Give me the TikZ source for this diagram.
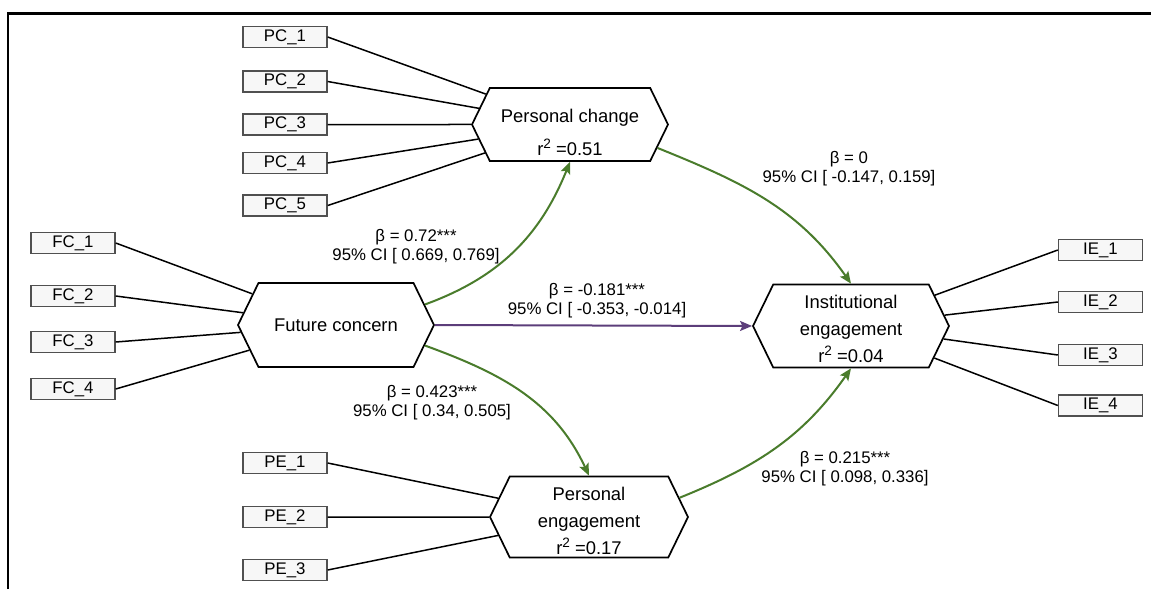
\documentclass[tikz,border=0pt]{standalone}
\usepackage{fontspec}
\setmainfont{Liberation Sans}
\usetikzlibrary{shapes.symbols,arrows.meta}
\definecolor{pathgreen}{RGB}{74,124,44}
\definecolor{pathpurple}{RGB}{92,61,122}
\definecolor{itemgray}{RGB}{80,80,80}
\newcommand{\rtwo}{r\raisebox{3.6pt}{\fontsize{6.8}{7}\selectfont 2}}

\begin{document}
\begin{tikzpicture}[x=0.5pt,y=-0.5pt,
    item/.style={draw=itemgray,line width=0.7pt,fill=gray!6,minimum width=42pt,minimum height=10.5pt,inner sep=0pt,font=\fontsize{8.4}{9}\selectfont},
    construct/.style={shape=signal,signal to=west and east,signal pointer angle=128,draw,line width=0.85pt,fill=white,minimum width=98pt,inner sep=0pt,align=center,font=\fontsize{9.2}{13.5}\selectfont},
    coef/.style={align=center,inner sep=0pt,font=\fontsize{8.4}{9.5}\selectfont},
    load/.style={line width=0.75pt},
    effect/.style={pathgreen,line width=1pt,-{Stealth[length=6pt,width=5pt,inset=1.2pt]}}]
        \useasboundingbox (0,0) rectangle (1151,589);
        \draw[line width=1.3pt] (8,589) |- (1151,13.5);
        % constructs
        \node[construct,minimum height=36.5pt] (pc) at (570,124.5) {\rule{0pt}{15pt}Personal change\\[3pt]\rtwo{} =0.51};
        \node[construct,minimum height=42pt] (fc) at (336,325) {Future concern};
        \node[construct,minimum height=41.5pt] (ie) at (851,326) {\rule{0pt}{9.5pt}Institutional\\engagement\\\rtwo{} =0.04};
        \node[construct,minimum height=40.5pt,minimum width=99pt] (pe) at (589,517) {\rule{0pt}{10.5pt}Personal\\engagement\\\rtwo{} =0.17};
        % indicators
        \node[item] (pc1) at (285,37) {PC\_1};
        \node[item] (pc2) at (285,81.5) {PC\_2};
        \node[item] (pc3) at (285,124.5) {PC\_3};
        \node[item] (pc4) at (285,163) {PC\_4};
        \node[item] (pc5) at (285,205.5) {PC\_5};
        \node[item] (fc1) at (73,243) {FC\_1};
        \node[item] (fc2) at (73,296) {FC\_2};
        \node[item] (fc3) at (73,342) {FC\_3};
        \node[item] (fc4) at (73,389) {FC\_4};
        \node[item] (ie1) at (1100.5,250) {IE\_1};
        \node[item] (ie2) at (1100.5,302) {IE\_2};
        \node[item] (ie3) at (1100.5,355) {IE\_3};
        \node[item] (ie4) at (1100.5,405.5) {IE\_4};
        \node[item] (pe1) at (285,463) {PE\_1};
        \node[item] (pe2) at (285,517) {PE\_2};
        \node[item] (pe3) at (285,570) {PE\_3};
        \draw[load] (pc1.east) -- (pc);
        \draw[load] (pc2.east) -- (pc);
        \draw[load] (pc3.east) -- (pc);
        \draw[load] (pc4.east) -- (pc);
        \draw[load] (pc5.east) -- (pc);
        \draw[load] (fc1.east) -- (fc);
        \draw[load] (fc2.east) -- (fc);
        \draw[load] (fc3.east) -- (fc);
        \draw[load] (fc4.east) -- (fc);
        \draw[load] (ie1.west) -- (ie);
        \draw[load] (ie2.west) -- (ie);
        \draw[load] (ie3.west) -- (ie);
        \draw[load] (ie4.west) -- (ie);
        \draw[load] (pe1.east) -- (pe);
        \draw[load] (pe2.east) -- (pe);
        \draw[load] (pe3.east) -- (pe);
        % paths
        \draw[effect] (fc.13) to[out=20,in=-112] (pc.south);
        \draw[effect] (pc.-15) to[out=-22,in=125] (ie.north);
        \draw[effect] (fc.-13) to[out=-20,in=115] (pe.north);
        \draw[effect] (pe.12) to[out=22,in=-125] (ie.south);
        \draw[effect,pathpurple] (fc.east) -- (ie.west);
        \node[coef] (fcpc) at (416,247) {β = 0.72***\\95\% CI [ 0.669, 0.769]};
        \node[coef] (fcie) at (597,301) {β = -0.181***\\95\% CI [ -0.353, -0.014]};
        \node[coef] (pcie) at (849,169) {β = 0\\95\% CI [ -0.147, 0.159]};
        \node[coef] (fcpe) at (432,403) {β = 0.423***\\95\% CI [ 0.34, 0.505]};
        \node[coef] (peie) at (845,469) {β = 0.215***\\95\% CI [ 0.098, 0.336]};
    \end{tikzpicture}
\end{document}
